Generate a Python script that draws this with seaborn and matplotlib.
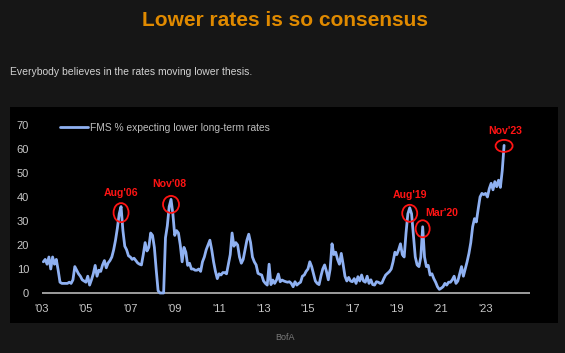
import numpy as np
import pandas as pd
import matplotlib
matplotlib.use("Agg")
import matplotlib.pyplot as plt
import seaborn as sns
from matplotlib.patches import Ellipse, Rectangle

# ---------------- data (monthly, Feb 2003 - Nov 2023) ----------------
series_start = "2003-02"
fms_pct = [
    13, 14, 12, 15, 10, 15, 12, 14, 9.5, 4.5, 4,                          # 2003 (Feb-Dec)
    4, 4, 4, 4.5, 4, 5.5, 11, 9.5, 8, 7, 5.5, 5,                          # 2004
    4.5, 7, 3.3, 5.5, 8, 11.5, 7, 9.5, 9, 11.7, 13.5, 10.5,               # 2005
    12.5, 13.5, 15, 18, 22, 27, 33, 36, 26, 19.5, 18, 15.5,               # 2006
    15, 14, 14.5, 13.5, 12.5, 12, 11.7, 16, 21, 17.5, 19, 25,             # 2007
    24, 19, 9.6, 1, 0, 0, 0, 23, 28, 36, 39, 33,                          # 2008
    24, 26, 25, 20, 13, 19, 17, 11.5, 12.4, 10, 10, 9.5,                  # 2009
    9.5, 10, 9, 13, 15, 18, 20, 22, 18, 13, 9, 6,                         # 2010
    8, 7.5, 8.5, 8.5, 8, 12, 16, 25, 19.5, 21, 20, 15,                    # 2011
    12.4, 14, 18, 22, 24.5, 21, 15, 13, 11.7, 8.2, 7.8, 7.5,              # 2012
    5, 4, 3.3, 12, 3.5, 5.4, 4, 5.4, 7.9, 4.7, 5.4, 5,                    # 2013
    4.7, 4.5, 4.7, 4, 2.6, 4.7, 3.3, 4, 4.5, 7, 7.5, 9,                   # 2014
    10, 13, 11, 8, 5, 4, 3.5, 7, 10, 11.7, 9, 5.5,                        # 2015
    10, 20.5, 16, 17, 14, 12, 16.5, 12, 7, 5, 6.5, 5,                     # 2016
    4.7, 6, 4, 6.8, 5, 7.5, 5, 4.5, 7, 4, 5.5, 3.5,                       # 2017
    3.3, 4.7, 4.5, 4, 4.2, 6, 7.5, 8.2, 8.9, 10, 13, 17,                  # 2018
    16, 18, 20.5, 16, 15, 25, 33, 35.5, 33, 24, 15, 11.7,                 # 2019
    11, 15, 27.6, 15, 11, 11.5, 7.5, 8, 6, 4.5, 2.6, 1.5,                 # 2020
    2, 2.6, 4, 3.3, 4.5, 4.5, 5.5, 7, 4, 5, 8, 11,                        # 2021
    7, 10, 13, 16.5, 21, 27.6, 31, 29.6, 35, 40, 41.5, 41,                # 2022
    41.5, 40, 43.5, 45.7, 43, 46.4, 44.3, 47, 44, 51, 61.5,               # 2023 (Jan-Nov)
]
series_label = "FMS % expecting lower long-term rates"

tick_years = [2003, 2005, 2007, 2009, 2011, 2013, 2015, 2017, 2019, 2021, 2023]
tick_labels = ["'03", "'05", "'07", "'09", "'11", "'13", "'15", "'17", "'19", "'21", "'23"]
y_ticks = [0, 10, 20, 30, 40, 50, 60, 70]

peak_labels = ["Aug'06", "Nov'08", "Aug'19", "Mar'20", "Nov'23"]
peak_months = ["2006-08", "2008-11", "2019-08", "2020-03", "2023-11"]

title = "Lower rates is so consensus"
subtitle = "Everybody believes in the rates moving lower thesis."
source = "BofA"

# ---------------- styling / layout ----------------
W, H = 565, 353
BG = "#161616"
LINE = "#8fb1f2"
RED = "#ff1414"
FONT = ["Liberation Sans", "DejaVu Sans"]

# per-annotation layout: text offset (pt), ellipse w/h (px), ellipse shift down (px)
text_offsets = [(0, 10), (-1.5, 11), (0, 9.5), (13.5, 10), (0.5, 10.5)]
ell_sizes = [(15, 19), (16, 17), (15, 17), (14, 17), (17, 12)]
ell_shift = [6, 5, 5.5, 2, 0.5]

sns.set_theme(style="dark")
plt.rcParams["font.family"] = FONT

dates = pd.period_range(series_start, periods=len(fms_pct), freq="M")
df = pd.DataFrame({
    "year": dates.year + (dates.month - 1) / 12.0,
    "pct": fms_pct,
})

fig = plt.figure(figsize=(W / 100, H / 100), dpi=100, facecolor=BG)
panel = Rectangle((10 / W, 1 - 323 / H), 548 / W, 216 / H,
                  transform=fig.transFigure, facecolor="black",
                  edgecolor="none", zorder=-10)
fig.patches.append(panel)

ax_left, ax_right = 41.5, 530.0
ax_top, ax_bot = 117.8, 300.2
ax = fig.add_axes([ax_left / W, 1 - ax_bot / H, (ax_right - ax_left) / W, (ax_bot - ax_top) / H])
ax.set_facecolor("none")
ax.set_zorder(2)

sns.lineplot(data=df, x="year", y="pct", ax=ax, color=LINE, linewidth=2.0,
             label=series_label, zorder=3)
ax.axhline(0, color="#a9a9a9", lw=1.3, zorder=2)

ax.set_xlim(2003, 2025)
ax.set_ylim(-3, 73)
ax.set_xticks(tick_years)
ax.set_xticklabels(tick_labels)
ax.set_yticks(y_ticks)
ax.set_xlabel("")
ax.set_ylabel("")
ax.grid(False)
for s in ax.spines.values():
    s.set_visible(False)
ax.tick_params(axis="both", length=0, labelsize=8, colors="#c8c8c8")
ax.tick_params(axis="x", pad=2.5)
ax.tick_params(axis="y", pad=9)

leg = ax.legend(loc="center left", bbox_to_anchor=(60 / W, 1 - 128 / H),
                bbox_transform=fig.transFigure, frameon=False, borderpad=0,
                borderaxespad=0, handlelength=2.75, handletextpad=0.15,
                fontsize=7.4, labelcolor="#bdbdbd")
for h in leg.get_lines():
    h.set_linewidth(2.0)

# px per data unit
px_x = (ax_right - ax_left) / 22.0
px_y = (ax_bot - ax_top) / 76.0

for lab, mon, off, (ew, eh), sh in zip(peak_labels, peak_months, text_offsets, ell_sizes, ell_shift):
    p = pd.Period(mon, freq="M")
    xv = p.year + (p.month - 1) / 12.0
    yv = float(df.loc[np.isclose(df["year"], xv), "pct"].iloc[0])
    ax.add_patch(Ellipse((xv, yv - sh / px_y), ew / px_x, eh / px_y,
                         fill=False, edgecolor=RED, lw=1.3, zorder=4, clip_on=False))
    ax.annotate(lab, xy=(xv, yv), xytext=off, textcoords="offset points",
                ha="center", va="center", color=RED, fontsize=7.6,
                fontweight="bold", zorder=5, annotation_clip=False)

fig.text(284.5 / W, 1 - 21 / H, title, ha="center", va="center", fontsize=15,
         fontweight="bold", color="#e08a00")
fig.text(10 / W, 1 - 72 / H, subtitle, ha="left", va="center", fontsize=7.5,
         color="#d2d2d2")
fig.text(284.7 / W, 1 - 337 / H, source, ha="center", va="center", fontsize=6.5,
         color="#7a7a7a")

fig.savefig("out.png", dpi=100, facecolor=fig.get_facecolor())
